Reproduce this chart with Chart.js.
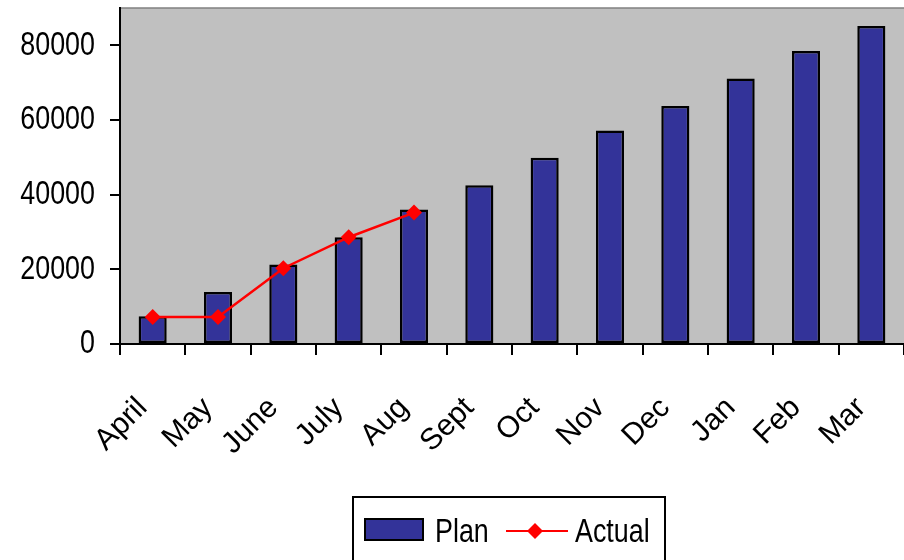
<!DOCTYPE html>
<html>
<head>
<meta charset="utf-8">
<script src="https://cdn.jsdelivr.net/npm/chart.js@4.4.1/dist/chart.umd.min.js"></script>
<style>
  html, body { margin: 0; padding: 0; background: #ffffff; }
  #wrap { position: relative; width: 904px; height: 560px; }
</style>
</head>
<body>
<div id="wrap"><canvas id="chart" width="904" height="560"></canvas></div>
<script>
// Monthly plan vs actual figures
const months = ['April', 'May', 'June', 'July', 'Aug', 'Sept', 'Oct', 'Nov', 'Dec', 'Jan', 'Feb', 'Mar'];
const plan = [7400, 13900, 21300, 28600, 36000, 42500, 49900, 57200, 63750, 71100, 78500, 85200];
const actual = [7200, 7200, 20300, 28600, 35200];
const yTickValues = [0, 20000, 40000, 60000, 80000];
const yMax = 90000;

const FONT = '"Liberation Sans", Arial, sans-serif';
const FONT_SIZE = 34;
const X_FONT_SIZE = 30;
const TEXT_SQUASH = 0.79;   // narrow, tall lettering for horizontal text
const PLAN_FILL = '#333399';
const ACTUAL_RED = '#ff0000';

const canvas = document.getElementById('chart');
const ctx2d = canvas.getContext('2d');

// Horizontal text is drawn condensed around its anchor; rotated labels are drawn as is
const baseFillText = ctx2d.fillText;
ctx2d.fillText = function (text, x, y, maxWidth) {
  const m = this.getTransform();
  const rotated = Math.abs(m.b) > 1e-6 || Math.abs(m.c) > 1e-6;
  if (rotated) {
    if (maxWidth === undefined) baseFillText.call(this, text, x, y);
    else baseFillText.call(this, text, x, y, maxWidth);
    return;
  }
  this.save();
  this.translate(x, y);
  this.scale(TEXT_SQUASH, 1);
  if (maxWidth === undefined) baseFillText.call(this, text, 0, 0);
  else baseFillText.call(this, text, 0, 0, maxWidth / TEXT_SQUASH);
  this.restore();
};

// Grey plot background with a thin border on top
const plotBackground = {
  id: 'plotBackground',
  beforeDraw(chart) {
    const { ctx, chartArea: a } = chart;
    ctx.save();
    ctx.fillStyle = '#c0c0c0';
    ctx.fillRect(a.left, a.top, a.right - a.left, a.bottom - a.top);
    ctx.strokeStyle = '#808080';
    ctx.lineWidth = 1.5;
    ctx.beginPath();
    ctx.moveTo(a.left, a.top);
    ctx.lineTo(a.right, a.top);
    ctx.stroke();
    ctx.restore();
  }
};

// Boxed legend: bar swatch for Plan, line-with-diamond for Actual
const boxedLegend = {
  id: 'boxedLegend',
  afterDraw(chart) {
    const { ctx, chartArea: a } = chart;
    const cx = (a.left + a.right) / 2;
    const left = cx - 159;
    const top = 497;
    ctx.save();
    ctx.strokeStyle = '#000000';
    ctx.lineWidth = 2;
    ctx.strokeRect(left, top, 312, 70);

    // Plan swatch
    ctx.fillStyle = PLAN_FILL;
    ctx.fillRect(left + 12, top + 22, 58, 21);
    ctx.strokeRect(left + 12, top + 22, 58, 21);

    ctx.fillStyle = '#000000';
    ctx.font = FONT_SIZE + 'px ' + FONT;
    ctx.textBaseline = 'alphabetic';
    ctx.textAlign = 'left';
    ctx.fillText(chart.data.datasets[1].label, left + 82, top + 45);

    // Actual swatch
    const ly = top + 34;
    ctx.strokeStyle = ACTUAL_RED;
    ctx.lineWidth = 2;
    ctx.beginPath();
    ctx.moveTo(left + 153, ly);
    ctx.lineTo(left + 215, ly);
    ctx.stroke();
    const dx = left + 182, r = 8;
    ctx.fillStyle = ACTUAL_RED;
    ctx.beginPath();
    ctx.moveTo(dx - r, ly);
    ctx.lineTo(dx, ly - r);
    ctx.lineTo(dx + r, ly);
    ctx.lineTo(dx, ly + r);
    ctx.closePath();
    ctx.fill();

    ctx.fillStyle = '#000000';
    ctx.fillText(chart.data.datasets[0].label, left + 222, top + 45);
    ctx.restore();
  }
};

function clearScalePadding(scale) {
  scale.paddingTop = 0;
  scale.paddingBottom = 0;
  scale.paddingLeft = 0;
  scale.paddingRight = 0;
}

new Chart(ctx2d, {
  data: {
    labels: months,
    datasets: [
      {
        type: 'line',
        label: 'Actual',
        data: actual,
        order: 0,
        borderColor: ACTUAL_RED,
        borderWidth: 2.5,
        pointStyle: 'rectRot',
        pointRadius: 8,
        pointBackgroundColor: ACTUAL_RED,
        pointBorderColor: ACTUAL_RED,
        pointBorderWidth: 0,
        tension: 0,
        clip: false
      },
      {
        type: 'bar',
        label: 'Plan',
        data: plan,
        order: 1,
        backgroundColor: PLAN_FILL,
        borderColor: '#000000',
        borderWidth: 2.5,
        borderSkipped: false,
        categoryPercentage: 1,
        barPercentage: 0.43
      }
    ]
  },
  options: {
    responsive: false,
    animation: false,
    events: [],
    layout: { autoPadding: false, padding: { top: 8, right: 0, bottom: 0, left: 0 } },
    plugins: {
      legend: { display: false },
      tooltip: { enabled: false }
    },
    scales: {
      x: {
        offset: true,
        grid: {
          offset: true,
          drawOnChartArea: false,
          drawTicks: true,
          tickLength: 11,
          color: '#000000',
          lineWidth: 2
        },
        border: { display: true, color: '#000000', width: 2 },
        ticks: {
          color: '#000000',
          font: { family: FONT, size: X_FONT_SIZE, lineHeight: 0.3 },
          maxRotation: 45,
          minRotation: 45,
          padding: 45,
          labelOffset: -10,
          autoSkip: false
        },
        afterFit(scale) {
          scale.height = 216;
          clearScalePadding(scale);
        }
      },
      y: {
        min: 0,
        max: yMax,
        grid: {
          drawOnChartArea: false,
          drawTicks: true,
          tickLength: 10,
          color: '#000000',
          lineWidth: 2
        },
        border: { display: true, color: '#000000', width: 2 },
        ticks: {
          color: '#000000',
          font: { family: FONT, size: FONT_SIZE },
          padding: 15,
          callback: v => String(v)
        },
        afterBuildTicks(scale) {
          scale.ticks = yTickValues.map(v => ({ value: v }));
        },
        afterFit(scale) {
          scale.width = 120;
          clearScalePadding(scale);
        }
      }
    }
  },
  plugins: [plotBackground, boxedLegend]
});
</script>
</body>
</html>
